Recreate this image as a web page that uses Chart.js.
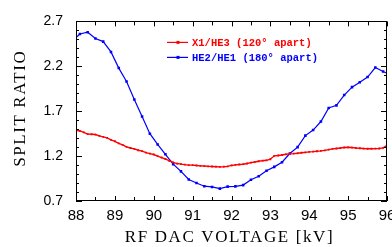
<!DOCTYPE html>
<html>
<head>
<meta charset="utf-8">
<script src="https://cdn.jsdelivr.net/npm/chart.js@4.4.1/dist/chart.umd.min.js"></script>
<style>
html,body{margin:0;padding:0;background:#fff;}
#wrap{width:392px;height:247px;}
</style>
</head>
<body>
<div id="wrap"><canvas id="c" width="392" height="247"></canvas></div>
<script>
// X1/HE3 (120 deg apart), sampled every 0.1 kV
const kvRed=[88.0,88.1,88.2,88.3,88.4,88.5,88.6,88.7,88.8,88.9,
89.0,89.1,89.2,89.3,89.4,89.5,89.6,89.7,89.8,89.9,
90.0,90.1,90.2,90.3,90.4,90.5,90.6,90.7,90.8,90.9,
91.0,91.1,91.2,91.3,91.4,91.5,91.6,91.7,91.8,91.9,
92.0,92.1,92.2,92.3,92.4,92.5,92.6,92.7,92.8,92.9,
93.0,93.1,93.2,93.3,93.4,93.5,93.6,93.7,93.8,93.9,
94.0,94.1,94.2,94.3,94.4,94.5,94.6,94.7,94.8,94.9,
95.0,95.1,95.2,95.3,95.4,95.5,95.6,95.7,95.8,95.9,96.0];
const ratioRed=[1.486,1.480,1.465,1.445,1.443,1.440,1.425,1.414,1.403,1.380,
1.365,1.342,1.325,1.302,1.290,1.280,1.265,1.255,1.238,1.228,
1.218,1.200,1.184,1.168,1.148,1.130,1.117,1.111,1.105,1.100,
1.099,1.095,1.091,1.089,1.086,1.084,1.082,1.080,1.082,1.086,
1.096,1.102,1.106,1.110,1.118,1.127,1.135,1.143,1.149,1.153,
1.165,1.203,1.207,1.212,1.220,1.225,1.228,1.232,1.237,1.242,
1.247,1.250,1.254,1.258,1.264,1.272,1.280,1.285,1.290,1.296,
1.298,1.295,1.290,1.287,1.284,1.282,1.282,1.283,1.285,1.292,1.320];

// HE2/HE1 (180 deg apart), sampled every 0.2 kV
const kvBlue=[87.9,88.1,88.3,88.5,88.7,88.9,89.1,89.3,89.5,89.7,89.9,
90.1,90.3,90.5,90.7,90.9,91.1,91.3,91.5,91.7,91.9,
92.1,92.3,92.5,92.7,92.9,93.1,93.3,93.5,93.7,93.9,
94.1,94.3,94.5,94.7,94.9,95.1,95.3,95.5,95.7,95.9,96.1];
const ratioBlue=[2.48,2.56,2.58,2.51,2.475,2.36,2.18,2.03,1.83,1.64,1.45,
1.33,1.22,1.11,1.03,0.94,0.90,0.865,0.857,0.838,0.86,
0.863,0.877,0.936,0.975,1.037,1.08,1.132,1.229,1.30,1.428,
1.49,1.585,1.735,1.765,1.88,1.968,2.023,2.08,2.186,2.142,2.10];

const seriesNames=["X1/HE3 (120\u00b0 apart)","HE2/HE1 (180\u00b0 apart)"];
const xTitle="RF DAC VOLTAGE [kV]";
const yTitle="SPLIT RATIO";

const RED="#ff0000";
const BLUE="#0000ff";

function pts(xs,ys){
return xs.map((x,i)=>({x:x,y:ys[i]}));
}

const frame={
id:"frame",
afterDraw(chart){
const ctx=chart.ctx;
const a=chart.chartArea;
const x=chart.scales.x, y=chart.scales.y;
ctx.save();
ctx.strokeStyle="#000";
ctx.lineWidth=1;
ctx.strokeRect(Math.round(a.left)+0.5,Math.round(a.top)+0.5,Math.round(a.right-a.left)-1,Math.round(a.bottom-a.top)-1);

ctx.beginPath();
// y ticks every 0.1, major every 0.5
for(let i=7;i<=27;i++){
let py=Math.round(y.getPixelForValue(i/10))+0.5;
let len=(i%5===2)?6:3;
ctx.moveTo(a.left,py);ctx.lineTo(a.left+len,py);
ctx.moveTo(a.right,py);ctx.lineTo(a.right-len,py);
}
// x ticks every 0.5 kV
for(let i=176;i<=192;i++){
let px=Math.round(x.getPixelForValue(i/2))+0.5;
let len=(i%2===0)?5:4;
ctx.moveTo(px,a.bottom);ctx.lineTo(px,a.bottom-len);
ctx.moveTo(px,a.top);ctx.lineTo(px,a.top+len);
}
ctx.stroke();

// legend inside plot
const cols=[RED,BLUE];
ctx.font="bold 10.5px 'Liberation Mono'";
ctx.textBaseline="middle";
ctx.textAlign="left";
for(let k=0;k<2;k++){
let ly=a.top+21+k*15;
ctx.strokeStyle=cols[k];
ctx.fillStyle=cols[k];
ctx.lineWidth=1.2;
ctx.beginPath();
ctx.moveTo(a.left+91,ly);ctx.lineTo(a.left+112,ly);
ctx.stroke();
ctx.fillRect(a.left+100.5,ly-1.5,3,3);
ctx.fillText(seriesNames[k],a.left+116,ly+1);
}

// axis titles
ctx.fillStyle="#000";
ctx.font="17px 'Liberation Serif'";
ctx.letterSpacing="1.6px";
ctx.textAlign="center";
ctx.textBaseline="middle";
ctx.fillText(xTitle,(a.left+a.right)/2-2,238);
ctx.translate(21,(a.top+a.bottom)/2-3);
ctx.rotate(-Math.PI/2);
ctx.fillText(yTitle,0,0);
ctx.restore();
}
};

new Chart(document.getElementById("c"),{
type:"line",
data:{
datasets:[{
label:seriesNames[0],
data:pts(kvRed,ratioRed),
borderColor:RED,
backgroundColor:RED,
borderWidth:1.4,
pointStyle:"rect",
pointRadius:1.3,
pointBorderWidth:0,
clip:0
},{
label:seriesNames[1],
data:pts(kvBlue,ratioBlue),
borderColor:BLUE,
backgroundColor:BLUE,
borderWidth:1.2,
pointStyle:"rect",
pointRadius:1.8,
pointBorderWidth:0,
clip:0
}]
},
options:{
responsive:false,
animation:false,
events:[],
layout:{padding:{top:17,right:5,left:0,bottom:0}},
plugins:{legend:{display:false},tooltip:{enabled:false}},
scales:{
x:{
type:"linear",
min:88,max:96,
grid:{display:false,drawTicks:false},
border:{display:false},
ticks:{stepSize:1,color:"#000",padding:6,font:{family:"Liberation Sans",size:15},maxRotation:0},
afterFit(s){s.height=46;s.paddingLeft=0;s.paddingRight=0;}
},
y:{
type:"linear",
min:0.7,max:2.7,
grid:{display:false,drawTicks:false},
border:{display:false},
ticks:{stepSize:0.5,color:"#000",padding:13,font:{family:"Liberation Sans",size:14},
callback:v=>v.toFixed(1)},
afterFit(s){s.width=76;}
}
}
},
plugins:[frame]
});
</script>
</body>
</html>
